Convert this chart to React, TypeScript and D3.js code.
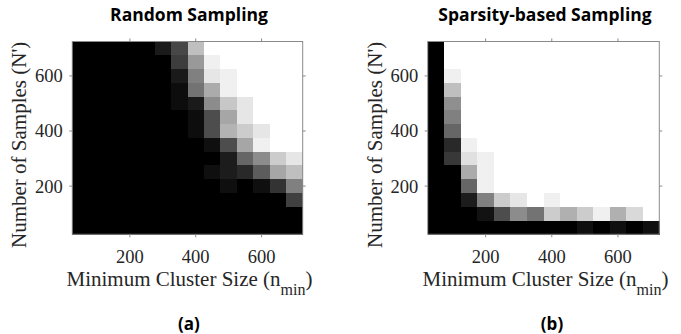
import React from 'react';
import * as d3 from 'd3';

// cell centres (both axes share the same grid)
const nMinValues = [50, 100, 150, 200, 250, 300, 350, 400, 450, 500, 550, 600, 650, 700];
const nSampleValues = [700, 650, 600, 550, 500, 450, 400, 350, 300, 250, 200, 150, 100, 50];
const tickValues = [200, 400, 600];

// success rate per cell, rows from N'=700 (top) down to N'=50
const randomRows: number[][] = [
  [0, 0, 0, 0, 0, 0.1, 0.28, 0.75, 1, 1, 1, 1, 1, 1],
  [0, 0, 0, 0, 0, 0, 0.24, 0.6, 0.94, 1, 1, 1, 1, 1],
  [0, 0, 0, 0, 0, 0, 0.1, 0.5, 0.9, 0.94, 1, 1, 1, 1],
  [0, 0, 0, 0, 0, 0, 0.05, 0.45, 0.67, 0.94, 1, 1, 1, 1],
  [0, 0, 0, 0, 0, 0, 0.05, 0.1, 0.55, 0.78, 0.9, 1, 1, 1],
  [0, 0, 0, 0, 0, 0, 0, 0.05, 0.3, 0.65, 0.9, 1, 1, 1],
  [0, 0, 0, 0, 0, 0, 0, 0.05, 0.3, 0.7, 0.8, 0.9, 1, 1],
  [0, 0, 0, 0, 0, 0, 0, 0, 0.06, 0.3, 0.65, 0.94, 1, 1],
  [0, 0, 0, 0, 0, 0, 0, 0, 0, 0.11, 0.4, 0.55, 0.8, 0.9],
  [0, 0, 0, 0, 0, 0, 0, 0, 0.06, 0.11, 0.16, 0.36, 0.65, 0.75],
  [0, 0, 0, 0, 0, 0, 0, 0, 0, 0.06, 0, 0.06, 0.2, 0.5],
  [0, 0, 0, 0, 0, 0, 0, 0, 0, 0, 0, 0, 0, 0.25],
  [0, 0, 0, 0, 0, 0, 0, 0, 0, 0, 0, 0, 0, 0],
  [0, 0, 0, 0, 0, 0, 0, 0, 0, 0, 0, 0, 0, 0],
];

const sparsityRows: number[][] = [
  [0, 1, 1, 1, 1, 1, 1, 1, 1, 1, 1, 1, 1, 1],
  [0, 1, 1, 1, 1, 1, 1, 1, 1, 1, 1, 1, 1, 1],
  [0, 0.94, 1, 1, 1, 1, 1, 1, 1, 1, 1, 1, 1, 1],
  [0, 0.75, 1, 1, 1, 1, 1, 1, 1, 1, 1, 1, 1, 1],
  [0, 0.56, 1, 1, 1, 1, 1, 1, 1, 1, 1, 1, 1, 1],
  [0, 0.5, 1, 1, 1, 1, 1, 1, 1, 1, 1, 1, 1, 1],
  [0, 0.4, 1, 1, 1, 1, 1, 1, 1, 1, 1, 1, 1, 1],
  [0, 0.16, 0.94, 1, 1, 1, 1, 1, 1, 1, 1, 1, 1, 1],
  [0, 0.22, 0.88, 0.94, 1, 1, 1, 1, 1, 1, 1, 1, 1, 1],
  [0, 0, 0.67, 0.94, 1, 1, 1, 1, 1, 1, 1, 1, 1, 1],
  [0, 0, 0.4, 0.94, 1, 1, 1, 1, 1, 1, 1, 1, 1, 1],
  [0, 0, 0.11, 0.5, 0.8, 0.9, 1, 0.94, 1, 1, 1, 1, 1, 1],
  [0, 0, 0, 0.07, 0.3, 0.55, 0.45, 0.8, 0.69, 0.8, 0.94, 0.69, 0.85, 1],
  [0, 0, 0, 0, 0, 0, 0, 0, 0, 0.06, 0, 0.06, 0, 0.06],
];

const W = 681;
const H = 334;
const TOP = 41.5;
const BOTTOM = 234.3;
const SERIF = '"Liberation Serif", "Times New Roman", serif';
const SANS = '"Open Sans", "Noto Sans", sans-serif';
const AXIS_GRAY = '#8a8a8a';

const gray = d3.scaleLinear<string>().domain([0, 1]).range(['#000000', '#ffffff']);

interface PanelProps {
  rows: number[][];
  title: string;
  tag: string;
  left: number;
  right: number;
  tagX: number;
}

const Panel: React.FC<PanelProps> = ({ rows, title, tag, left, right, tagX }) => {
  const x = d3.scaleLinear().domain([25, 725]).range([left, right]);
  const y = d3.scaleLinear().domain([25, 725]).range([BOTTOM, TOP]);
  const half = 25;
  const cx = (left + right) / 2;

  return (
    <g>
      <g shapeRendering="crispEdges">
        {rows.map((row, ri) =>
          row.map((v, ci) => {
            const xc = nMinValues[ci];
            const yc = nSampleValues[ri];
            return (
              <rect
                key={`${ri}-${ci}`}
                x={x(xc - half)}
                y={y(yc + half)}
                width={x(xc + half) - x(xc - half) + 0.3}
                height={y(yc - half) - y(yc + half) + 0.3}
                fill={gray(v)}
              />
            );
          })
        )}
      </g>
      <rect x={left} y={TOP} width={right - left} height={BOTTOM - TOP} fill="none" stroke={AXIS_GRAY} strokeWidth={1} />
      {tickValues.map((t) => (
        <g key={`t${t}`} stroke={AXIS_GRAY} strokeWidth={1}>
          <line x1={x(t)} x2={x(t)} y1={BOTTOM} y2={BOTTOM + 3} />
          <line x1={x(t)} x2={x(t)} y1={TOP} y2={TOP - 3} />
          <line x1={left} x2={left - 3} y1={y(t)} y2={y(t)} />
          <line x1={right} x2={right + 3} y1={y(t)} y2={y(t)} />
        </g>
      ))}
      {tickValues.map((t) => (
        <text key={`xl${t}`} x={x(t)} y={262.5} textAnchor="middle" fontFamily={SERIF} fontSize={18.5} fill="#262626">
          {t}
        </text>
      ))}
      {tickValues.map((t) => (
        <text key={`yl${t}`} x={left - 9.5} y={y(t)} dy="0.35em" textAnchor="end" fontFamily={SERIF} fontSize={18.5} fill="#262626">
          {t}
        </text>
      ))}
      <text x={cx + 2} y={286} textAnchor="middle" fontFamily={SERIF} fontSize={21} fill="#262626">
        Minimum Cluster Size (n
        <tspan fontSize={16} dy={9}>min</tspan>
        <tspan dy={-9}>)</tspan>
      </text>
      <text
        transform={`translate(${left - 46},${(TOP + BOTTOM) / 2 + 7}) rotate(-90)`}
        textAnchor="middle"
        fontFamily={SERIF}
        fontSize={21}
        fill="#262626"
      >
        Number of Samples (N')
      </text>
      <text x={cx + 1.5} y={21} textAnchor="middle" fontFamily={SANS} fontWeight="bold" fontSize={17.5} fill="#000">
        {title}
      </text>
      <text x={tagX} y={330} textAnchor="middle" fontFamily={SANS} fontWeight="bold" fontSize={17} fill="#000">
        {tag}
      </text>
    </g>
  );
};

export default function App() {
  return (
    <svg
      width={W}
      height={H}
      viewBox={`0 0 ${W} ${H}`}
      style={{ position: 'absolute', left: 0, top: 0, display: 'block', background: '#fff' }}
    >
      <rect width={W} height={H} fill="#fff" />
      <Panel rows={randomRows} title="Random Sampling" tag="(a)" left={72.3} right={302.7} tagX={189} />
      <Panel rows={sparsityRows} title="Sparsity-based Sampling" tag="(b)" left={427.7} right={659.3} tagX={552} />
    </svg>
  );
}
